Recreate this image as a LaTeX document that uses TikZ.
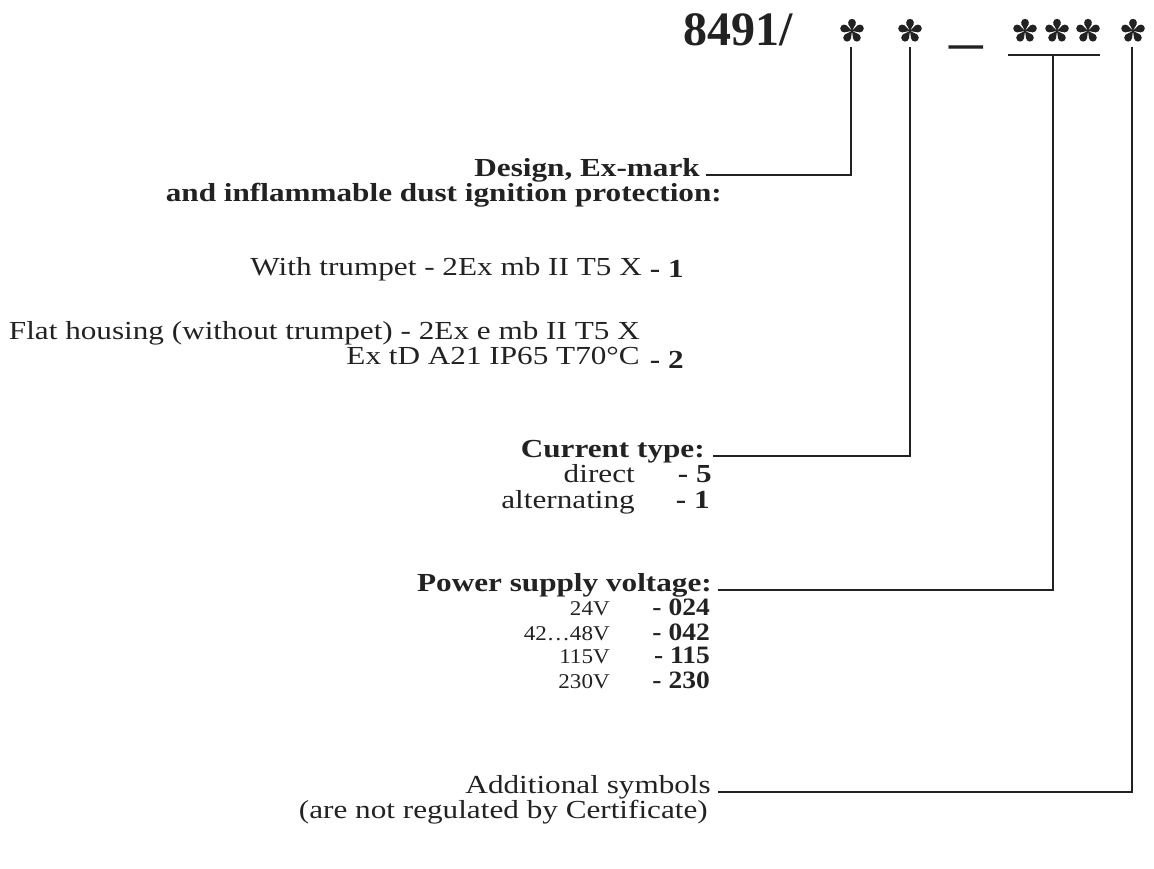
\documentclass[tikz,border=0pt]{standalone}
\usepackage{fontspec}
\setmainfont{Liberation Serif}
\usetikzlibrary{calc}
\definecolor{ink}{HTML}{222222}
\begin{document}
\begin{tikzpicture}[x=1pt,y=-1pt,
  lbl/.style={inner sep=0pt, text height=0.7em, text depth=0.2em, anchor=east, xscale=1.2, text=ink, font=\fontsize{26}{26}\selectfont},
  blbl/.style={lbl, font=\fontsize{26}{26}\selectfont\bfseries},
  slbl/.style={lbl, xscale=0.917, font=\fontsize{21}{21}\selectfont},
  sblbl/.style={lbl, xscale=0.917, font=\fontsize{25}{25}\selectfont\bfseries},
  conn/.style={line width=1.4pt, draw=ink},
  tstar/.pic={
    \foreach \a in {270,198,342,126,54}{
      \fill[ink] (0,0) -- ($(\a:8.3)+(\a+110:3.9)$) -- ($(\a:8.3)+(\a-110:3.9)$) -- cycle;
      \fill[ink] (\a:8.3) circle[radius=3.9pt];
    }
    \fill[ink] (0,0) circle[radius=1.4pt];
  }]
\useasboundingbox (0,0) rectangle (1154,868);

% code line
\node[anchor=base west, inner sep=0pt, text=ink, font=\fontsize{48}{48}\selectfont\bfseries] (code) at (683,45) {8491/};
\pic at (852,31) {tstar};
\pic at (910,31) {tstar};
\node[anchor=base, inner sep=0pt, text=ink, xscale=1.4, font=\fontsize{48}{48}\selectfont\bfseries] (us) at (966,42) {\_};
\pic at (1025,31) {tstar};
\pic at (1057,31) {tstar};
\pic at (1088,31) {tstar};
\pic at (1133,31) {tstar};

\coordinate (t1) at (851,47);
\coordinate (t2) at (910,47);
\coordinate (barL) at (1008,55);
\coordinate (barR) at (1100,55);
\coordinate (t3) at (1053,55);
\coordinate (t4) at (1132,47);

% labels
\node[blbl] (design) at (700,174) {Design, Ex-mark};
\node[blbl] (dust) at (722,199) {and inflammable dust ignition protection:};
\node[lbl] (with) at (642,273) {With trumpet - 2Ex mb II T5 X};
\node[blbl] (c1) at (684,275) {- 1};
\node[lbl] (flat) at (640,337) {Flat housing (without trumpet) - 2Ex e mb II T5 X};
\node[lbl] (extd) at (640,362) {Ex tD A21 IP65 T70°C};
\node[blbl] (c2) at (684,366) {- 2};

\node[blbl] (current) at (705,455) {Current type:};
\node[lbl] (direct) at (635,480) {direct};
\node[blbl] (c5) at (712,480) {- 5};
\node[lbl] (alt) at (635,506) {alternating};
\node[blbl] (c1b) at (710,506) {- 1};

\node[blbl] (power) at (712,589) {Power supply voltage:};
\node[slbl] (v24) at (610,613) {24V};
\node[sblbl] (c024) at (710,613) {- 024};
\node[slbl] (v42) at (610,638) {42…48V};
\node[sblbl] (c042) at (710,638) {- 042};
\node[slbl] (v115) at (610,661) {115V};
\node[sblbl] (c115) at (710,661) {- 115};
\node[slbl] (v230) at (610,686) {230V};
\node[sblbl] (c230) at (710,686) {- 230};

\node[lbl] (add) at (711,791) {Additional symbols};
\node[lbl] (addb) at (708,816) {(are not regulated by Certificate)};

% connectors
\draw[conn] ([xshift=6pt,yshift=-1pt]design.east) -| (t1);
\draw[conn] ([xshift=8pt,yshift=-1pt]current.east) -| (t2);
\draw[conn] ([xshift=6pt,yshift=-1pt]power.east) -| (t3);
\draw[conn] (barL) -- (barR);
\draw[conn] ([xshift=7pt,yshift=-1pt]add.east) -| (t4);
\end{tikzpicture}
\end{document}
